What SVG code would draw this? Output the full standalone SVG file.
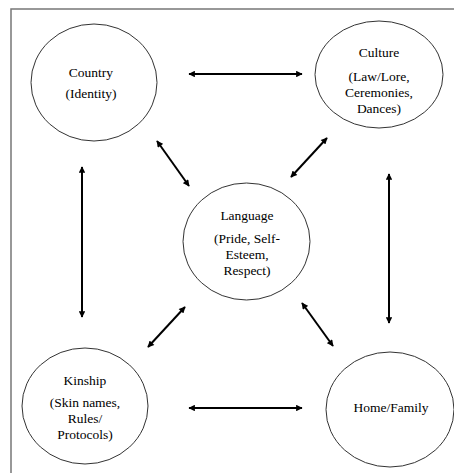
<svg xmlns="http://www.w3.org/2000/svg" width="454" height="473" viewBox="0 0 454 473">
<defs>
<marker id="ah" viewBox="0 0 10 10" refX="9" refY="5" markerWidth="8" markerHeight="6.5" markerUnits="userSpaceOnUse" orient="auto-start-reverse">
<path d="M0,0 L10,5 L0,10 z" fill="#000"/>
</marker>
<style>
.node ellipse{fill:#fff;stroke:#333;stroke-width:1}
.node text{font-family:"Liberation Serif","Times New Roman",serif;font-size:13.5px;fill:#000;text-anchor:middle}
.conn line{stroke:#000;stroke-width:2;marker-start:url(#ah);marker-end:url(#ah)}
.frame{stroke:#777;stroke-width:1.5;fill:none}
</style>
</defs>
<rect width="454" height="473" fill="#fff"/>
<path class="frame" d="M11,473 L11,9 L454,9"/>
<g id="country" class="node">
<ellipse cx="94" cy="82.5" rx="63" ry="58.5"/>
<text x="91" y="77">Country</text>
<text x="91" y="98">(Identity)</text>
</g>
<g id="culture" class="node">
<ellipse cx="379" cy="74.5" rx="64" ry="53.5"/>
<text x="379" y="57">Culture</text>
<text x="379" y="81">(Law/Lore,</text>
<text x="379" y="97">Ceremonies,</text>
<text x="379" y="113">Dances)</text>
</g>
<g id="language" class="node">
<ellipse cx="246.5" cy="241.5" rx="63.5" ry="58.5"/>
<text x="247" y="220">Language</text>
<text x="247" y="243">(Pride, Self-</text>
<text x="247" y="259">Esteem,</text>
<text x="247" y="275">Respect)</text>
</g>
<g id="kinship" class="node">
<ellipse cx="85" cy="406" rx="63" ry="58"/>
<text x="85" y="385">Kinship</text>
<text x="85" y="407">(Skin names,</text>
<text x="85" y="423">Rules/</text>
<text x="85" y="439">Protocols)</text>
</g>
<g id="home" class="node">
<ellipse cx="390" cy="409.5" rx="64" ry="57.5"/>
<text x="391" y="412">Home/Family</text>
</g>
<g id="connectors" class="conn">
<line x1="189" y1="74" x2="302" y2="74"/>
<line x1="189" y1="408" x2="302" y2="408"/>
<line x1="82" y1="167" x2="82" y2="317"/>
<line x1="389" y1="174" x2="389" y2="323"/>
<line x1="157" y1="141" x2="189" y2="186"/>
<line x1="327" y1="138" x2="291" y2="177"/>
<line x1="185" y1="307" x2="148" y2="347"/>
<line x1="302" y1="303" x2="333" y2="346"/>
</g>
</svg>
